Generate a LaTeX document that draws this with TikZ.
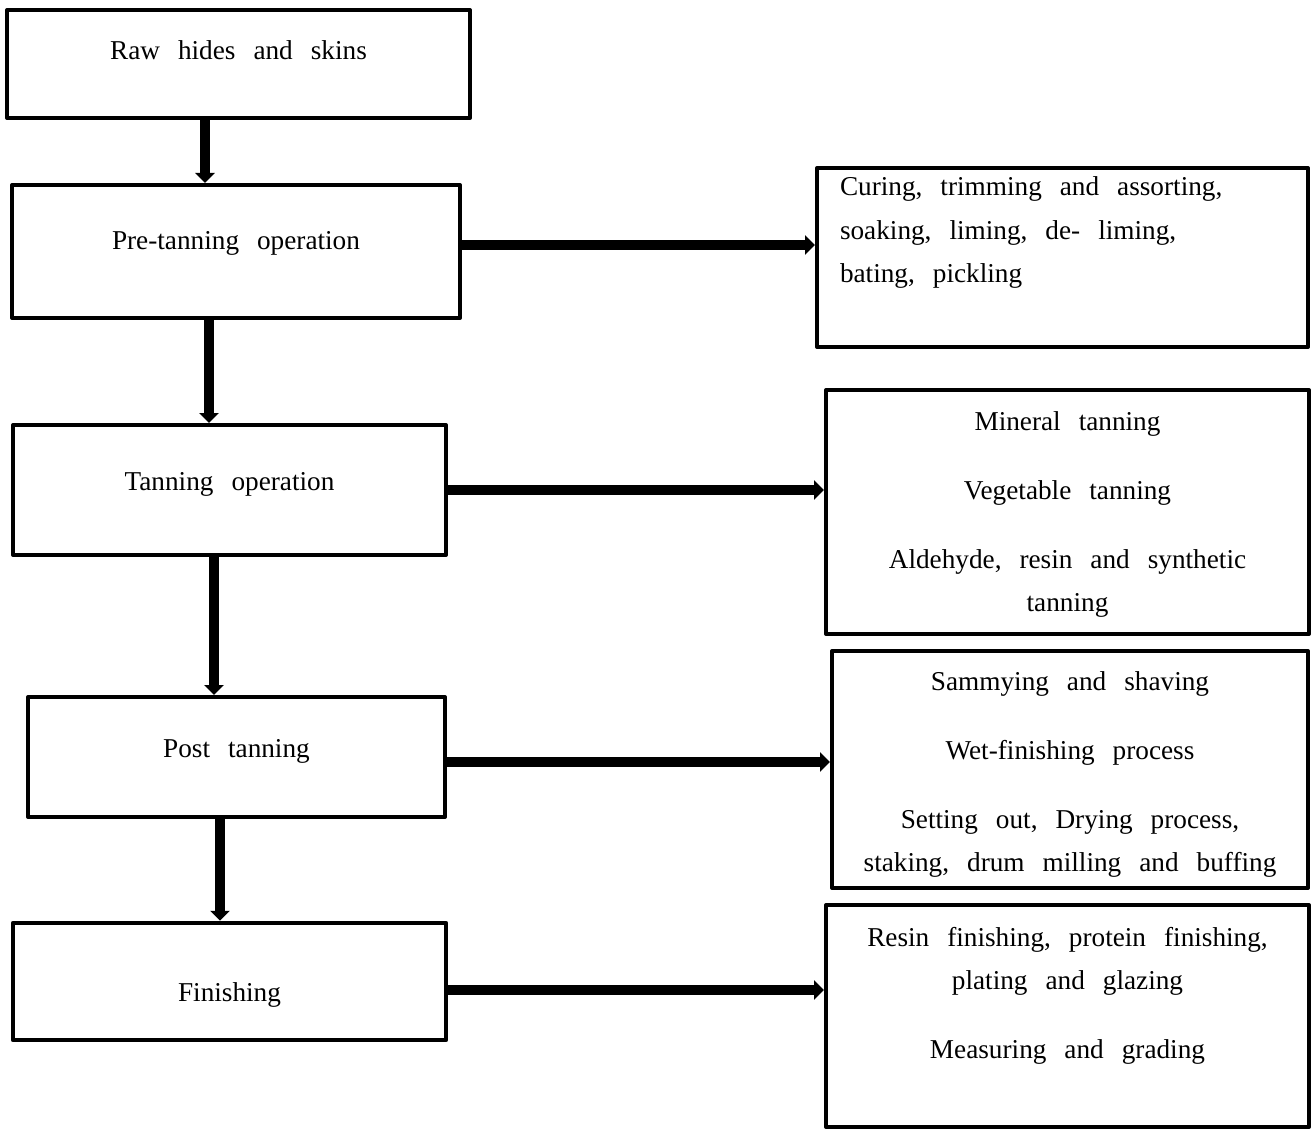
\documentclass[tikz,border=0pt]{standalone}
\usepackage{fontspec}
\setmainfont{Liberation Serif}
\usepackage{tikz}
\usetikzlibrary{arrows.meta}

\newcommand{\widespaces}{\setlength{\spaceskip}{0.36cm}}

\begin{document}
\begin{tikzpicture}[
  every node/.style={rectangle, draw, line width=0.08cm, line join=round,
                     font=\fontsize{15.5}{24.5}\selectfont, text height=0.4cm,
                     execute at begin node=\widespaces},
  detail/.style={align=center, text width=9.2cm},
  flow/.style={line width=0.21cm, -{Triangle[width=0.38cm,length=0.2cm]}}]

\useasboundingbox (0,0) rectangle (26.24,-22.58);

% left column
\node (raw) [minimum width=9.26cm, minimum height=2.16cm, text depth=0.56cm] at (4.77,-1.28) {Raw hides and skins};
\node (pre) [minimum width=8.96cm, minimum height=2.66cm, text depth=0.46cm] at (4.72,-5.03) {Pre-tanning operation};
\node (tan) [minimum width=8.66cm, minimum height=2.60cm, text depth=0.40cm] at (4.59,-9.80) {Tanning operation};
\node (post) [minimum width=8.34cm, minimum height=2.40cm, text depth=0.40cm] at (4.73,-15.14) {Post tanning};
\node (fin) [minimum width=8.66cm, minimum height=2.35cm, text height=0.78cm, text depth=0cm] at (4.59,-19.63) {Finishing};

% right column
\node (cur) [align=left, text width=8.9cm, minimum width=9.82cm, minimum height=3.58cm, text depth=2.86cm] at (21.25,-5.15)
  {Curing, trimming and assorting,\\ soaking, liming, de- liming,\\ bating, pickling};
\node (min) [detail, minimum width=9.66cm, minimum height=4.88cm, text depth=3.68cm] at (21.35,-10.24)
  {Mineral tanning\\[0.52cm] Vegetable tanning\\[0.52cm] Aldehyde, resin and synthetic\\ tanning};
\node (sam) [detail, minimum width=9.52cm, minimum height=4.74cm, text depth=3.58cm] at (21.40,-15.39)
  {Sammying and shaving\\[0.52cm] Wet-finishing process\\[0.52cm] Setting out, Drying process,\\ staking, drum milling and buffing};
\node (res) [detail, minimum width=9.66cm, minimum height=4.44cm, text depth=3.20cm] at (21.35,-20.32)
  {Resin finishing, protein finishing,\\ plating and glazing\\[0.52cm] Measuring and grading};

% down the stages
\draw [flow] ([xshift=-0.67cm]raw.south) -- ([xshift=-0.67cm]raw.south |- pre.north);
\draw [flow] ([xshift=-0.54cm]pre.south) -- ([xshift=-0.54cm]pre.south |- tan.north);
\draw [flow] ([xshift=-0.31cm]tan.south) -- ([xshift=-0.31cm]tan.south |- post.north);
\draw [flow] ([xshift=-0.33cm]post.south) -- ([xshift=-0.33cm]post.south |- fin.north);

% out to the details
\draw [flow] ([yshift=0.13cm]pre.east) -- ([yshift=0.13cm]pre.east -| cur.west);
\draw [flow] (tan.east) -- (tan.east -| min.west);
\draw [flow] ([yshift=-0.10cm]post.east) -- ([yshift=-0.10cm]post.east -| sam.west);
\draw [flow] ([yshift=-0.17cm]fin.east) -- ([yshift=-0.17cm]fin.east -| res.west);

\end{tikzpicture}
\end{document}
